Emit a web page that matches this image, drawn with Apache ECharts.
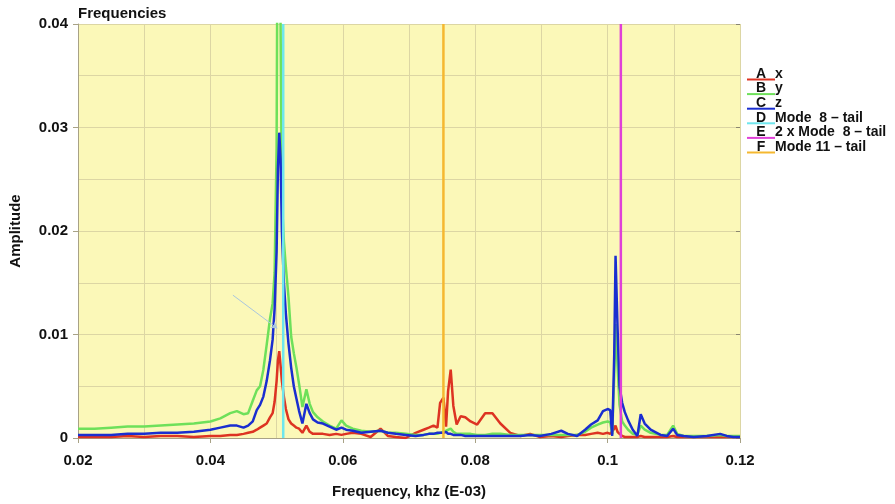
<!DOCTYPE html>
<html>
<head>
<meta charset="utf-8">
<script src="https://cdn.jsdelivr.net/npm/echarts@6/dist/echarts.min.js"></script>
<style>html,body{margin:0;padding:0;background:#fff}#c{width:895px;height:504px}</style>
</head>
<body>
<div id="c"></div>
<script>
// ---- data ----
const freq = [
0.0200,0.0225,0.0250,0.0275,0.0300,0.0325,0.0350,0.0375,0.0400,0.0415,
0.0430,0.0440,0.0450,0.0457,0.0464,0.0470,0.0475,0.0480,0.0485,0.0490,
0.0494,0.0497,0.0500,0.0502,0.0504,0.0506,0.0508,0.0511,0.0514,0.0518,
0.0522,0.0526,0.0530,0.0534,0.0539,0.0545,0.0550,0.0555,0.0562,0.0570,
0.0580,0.0590,0.0598,0.0605,0.0615,0.0628,0.0642,0.0657,0.0668,0.0680,
0.0695,0.0710,0.0722,0.0730,0.0737,0.0743,0.0747,0.0752,0.0756,0.0759,
0.0763,0.0767,0.0772,0.0778,0.0785,0.0793,0.0803,0.0815,0.0826,0.0838,
0.0853,0.0868,0.0883,0.0898,0.0915,0.0930,0.0940,0.0954,0.0966,0.0975,
0.0985,0.0993,0.1000,0.1004,0.1007,0.1010,0.1012,0.1015,0.1018,0.1022,
0.1026,0.1031,0.1038,0.1045,0.1050,0.1056,0.1065,0.1080,0.1090,0.1099,
0.1105,0.1115,0.1130,0.1150,0.1170,0.1180,0.1190,0.1200
];
const ampX = [
0.0001,0.0001,0.0001,0.0002,0.0001,0.0002,0.0002,0.0001,0.0002,0.0002,
0.0003,0.0003,0.0004,0.0005,0.0006,0.0008,0.0010,0.0012,0.0014,0.0020,
0.0024,0.0035,0.0055,0.0075,0.0084,0.0070,0.0055,0.0040,0.0028,0.0018,
0.0014,0.0012,0.0010,0.0009,0.0005,0.0012,0.0006,0.0004,0.0004,0.0004,
0.0003,0.0004,0.0003,0.0004,0.0005,0.0004,0.0001,0.0009,0.0002,0.0001,
0.0000,0.0005,0.0008,0.0010,0.0012,0.0010,0.0034,0.0039,0.0011,0.0045,
0.0066,0.0031,0.0013,0.0021,0.0020,0.0016,0.0013,0.0024,0.0024,0.0014,
0.0005,0.0002,0.0004,0.0001,0.0002,0.0001,0.0002,0.0003,0.0003,0.0004,
0.0005,0.0004,0.0005,0.0004,0.0003,0.0009,0.0012,0.0006,0.0004,0.0002,
0.0001,0.0001,0.0001,0.0001,0.0002,0.0001,0.0001,0.0001,0.0001,0.0002,
0.0001,0.0001,0.0001,0.0001,0.0001,0.0001,0.0001,0.0001
];
const ampY = [
0.0009,0.0009,0.0010,0.0011,0.0011,0.0012,0.0013,0.0014,0.0016,0.0019,
0.0024,0.0026,0.0023,0.0024,0.0036,0.0046,0.0050,0.0066,0.0090,0.0115,
0.0130,0.0160,0.0280,0.0600,0.0600,0.0400,0.0230,0.0190,0.0165,0.0136,
0.0098,0.0082,0.0068,0.0052,0.0030,0.0047,0.0033,0.0025,0.0020,0.0016,
0.0012,0.0009,0.0017,0.0012,0.0009,0.0007,0.0006,0.0007,0.0005,0.0005,
0.0004,0.0003,0.0003,0.0004,0.0004,0.0004,0.0005,0.0006,0.0007,0.0008,
0.0009,0.0006,0.0004,0.0004,0.0004,0.0004,0.0003,0.0003,0.0004,0.0004,
0.0003,0.0003,0.0003,0.0003,0.0003,0.0003,0.0003,0.0003,0.0006,0.0010,
0.0013,0.0015,0.0016,0.0015,0.0004,0.0060,0.0110,0.0070,0.0032,0.0016,
0.0012,0.0008,0.0004,0.0003,0.0012,0.0008,0.0005,0.0003,0.0003,0.0012,
0.0004,0.0002,0.0002,0.0002,0.0003,0.0002,0.0002,0.0002
];
const ampZ = [
0.0003,0.0003,0.0003,0.0004,0.0004,0.0005,0.0005,0.0006,0.0008,0.0010,
0.0012,0.0012,0.0010,0.0012,0.0016,0.0027,0.0032,0.0040,0.0055,0.0075,
0.0095,0.0125,0.0180,0.0260,0.0295,0.0270,0.0200,0.0150,0.0120,0.0091,
0.0068,0.0050,0.0038,0.0026,0.0014,0.0033,0.0024,0.0018,0.0015,0.0014,
0.0011,0.0008,0.0010,0.0008,0.0007,0.0005,0.0006,0.0007,0.0005,0.0004,
0.0003,0.0002,0.0003,0.0004,0.0004,0.0005,0.0005,0.0005,0.0006,0.0004,
0.0004,0.0003,0.0003,0.0003,0.0002,0.0002,0.0002,0.0002,0.0002,0.0002,
0.0002,0.0002,0.0003,0.0002,0.0004,0.0007,0.0004,0.0002,0.0008,0.0013,
0.0017,0.0026,0.0028,0.0027,0.0002,0.0080,0.0176,0.0107,0.0050,0.0034,
0.0025,0.0017,0.0008,0.0002,0.0023,0.0014,0.0008,0.0003,0.0002,0.0009,
0.0003,0.0002,0.0001,0.0002,0.0004,0.0002,0.0001,0.0001
];
const modeFreqs = [0.0510, 0.1020, 0.0752];
const seriesLetters = ['A', 'B', 'C', 'D', 'E', 'F'];
const seriesNames = ['x', 'y', 'z', 'Mode  8 \u2013 tail', '2 x Mode  8 \u2013 tail', 'Mode 11 \u2013 tail'];
const freqTicks = [0.02, 0.04, 0.06, 0.08, 0.10, 0.12];
const ampTicks = [0, 0.01, 0.02, 0.03, 0.04];
const arrowFrom = [0.0434, 0.0138];
const arrowTo = [0.0501, 0.0106];

// ---- styling ----
const colors = ['#dd3322', '#6ee05a', '#1a2ed0', '#6ee6ee', '#e040d8', '#f5b830'];
const FONT = '"Liberation Sans", Arial, sans-serif';
const yMin = ampTicks[0], yMax = ampTicks[ampTicks.length - 1];

const curves = [ampX, ampY, ampZ].map((vals, i) => ({
  name: seriesNames[i],
  type: 'line',
  data: freq.map((f, k) => [f, vals[k]]),
  showSymbol: false,
  symbol: 'none',
  clip: true,
  lineStyle: { width: 2.5, color: colors[i] },
  itemStyle: { color: colors[i] },
  z: 2 + i
}));
curves[2].markLine = {
  silent: true,
  symbol: ['none', 'arrow'],
  symbolSize: 6,
  label: { show: false },
  lineStyle: { color: '#a9c6de', width: 1, type: 'solid' },
  data: [[{ coord: arrowFrom }, { coord: arrowTo }]]
};
const modes = modeFreqs.map((f, i) => ({
  name: seriesNames[3 + i],
  type: 'line',
  data: [[f, yMin], [f, yMax]],
  showSymbol: false,
  symbol: 'none',
  lineStyle: { width: 2.5, color: colors[3 + i] },
  itemStyle: { color: colors[3 + i] },
  z: 6
}));

const letterOf = {};
seriesNames.forEach((n, i) => letterOf[n] = seriesLetters[i]);

const chart = echarts.init(document.getElementById('c'), null, { renderer: 'canvas' });
chart.setOption({
  animation: false,
  backgroundColor: '#ffffff',
  color: colors,
  title: {
    text: 'Frequencies', left: 73, top: 1,
    textStyle: { fontFamily: FONT, fontWeight: 'bold', fontSize: 15, color: '#111' }
  },
  legend: {
    orient: 'vertical', left: 747, top: 67, padding: 0,
    itemWidth: 28, itemHeight: 13, itemGap: 0.6,
    selectedMode: false,
    icon: 'path://M0,0M0,11L28,11L28,13L0,13Z',
    itemStyle: { borderWidth: 0 },
    data: seriesNames,
    formatter: n => '{l|' + letterOf[n] + '}{n|' + n + '}',
    textStyle: {
      padding: [0, 0, 0, -33],
      rich: {
        l: { width: 28, align: 'center', fontFamily: FONT, fontWeight: 'bold', fontSize: 14, color: '#111', lineHeight: 13 },
        n: { fontFamily: FONT, fontWeight: 'bold', fontSize: 14, color: '#111', lineHeight: 13 }
      }
    }
  },
  grid: {
    left: 77, right: 155, top: 24, bottom: 62,
    show: true, backgroundColor: '#fbf8b8', borderWidth: 0
  },
  xAxis: {
    type: 'value',
    min: freqTicks[0], max: freqTicks[freqTicks.length - 1], interval: 0.02,
    name: 'Frequency, khz (E-03)', nameLocation: 'middle', nameGap: 46,
    nameTextStyle: { fontFamily: FONT, fontWeight: 'bold', fontSize: 15, color: '#111' },
    axisLine: { show: true, onZero: false, lineStyle: { color: '#a8a286', width: 1 } },
    axisTick: { show: true, length: 5, lineStyle: { color: '#a8a286' } },
    axisLabel: {
      margin: 15, fontFamily: FONT, fontWeight: 'bold', fontSize: 15, color: '#111',
      formatter: v => String(parseFloat(v.toFixed(2)))
    },
    splitLine: { show: true, lineStyle: { color: '#dcd6a4', width: 1 } },
    minorTick: { show: false, splitNumber: 2 },
    minorSplitLine: { show: true, lineStyle: { color: '#dcd6a4', width: 1 } }
  },
  yAxis: [{
    type: 'value',
    min: yMin, max: yMax, interval: 0.01,
    name: 'Amplitude', nameLocation: 'middle', nameGap: 55,
    nameTextStyle: { fontFamily: FONT, fontWeight: 'bold', fontSize: 15, color: '#111' },
    axisLine: { show: true, lineStyle: { color: '#a8a286', width: 1 } },
    axisTick: { show: true, length: 5, lineStyle: { color: '#a8a286' } },
    axisLabel: {
      margin: 10, fontFamily: FONT, fontWeight: 'bold', fontSize: 15, color: '#111',
      formatter: v => String(parseFloat(v.toFixed(2)))
    },
    splitLine: { show: true, lineStyle: { color: '#dcd6a4', width: 1 } },
    minorTick: { show: false, splitNumber: 2 },
    minorSplitLine: { show: true, lineStyle: { color: '#dcd6a4', width: 1 } }
  }, {
    type: 'value', position: 'right',
    min: yMin, max: yMax, interval: 0.01,
    axisLine: { show: false },
    axisTick: { show: true, inside: true, length: 4, lineStyle: { color: '#8a8670' } },
    axisLabel: { show: false },
    splitLine: { show: false }
  }],
  series: curves.concat(modes)
});
</script>
</body>
</html>
